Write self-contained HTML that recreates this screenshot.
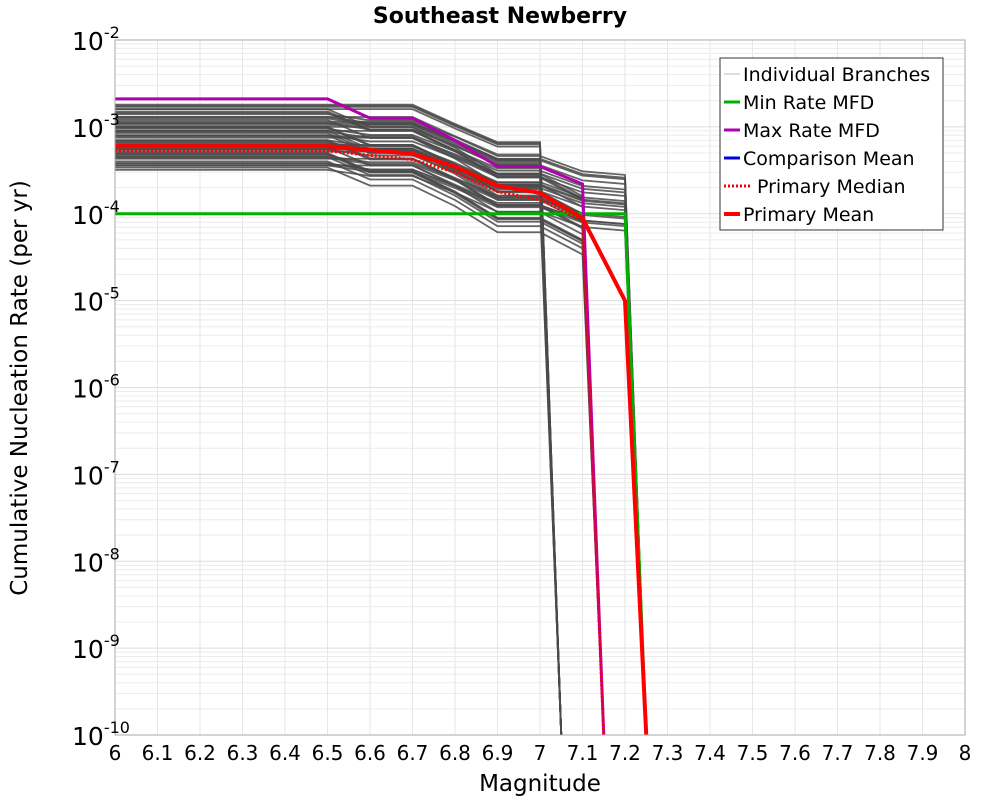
<!DOCTYPE html>
<html><head><meta charset="utf-8"><style>
html,body{margin:0;padding:0;background:#fff;overflow:hidden;font-family:"DejaVu Sans","Liberation Sans",sans-serif}
svg{display:block}
svg text{font-family:"DejaVu Sans","Liberation Sans",sans-serif}
</style></head><body>
<svg id="chart" width="1000" height="800" xmlns="http://www.w3.org/2000/svg">
<text x="500" y="23" text-anchor="middle" font-size="22" font-weight="bold">Southeast Newberry</text>
<g id="grid"></g>
<defs><clipPath id="clip"><rect x="115" y="40" width="850" height="695"/></clipPath></defs>
<g id="branches" clip-path="url(#clip)"></g>
<g id="series" clip-path="url(#clip)"></g>
<rect x="115" y="40" width="850" height="695" fill="none" stroke="#aaa" stroke-width="1"/>
<g id="axes"></g>
<text x="540" y="791" text-anchor="middle" font-size="23">Magnitude</text>
<text transform="translate(27,388) rotate(-90)" text-anchor="middle" font-size="23">Cumulative Nucleation Rate (per yr)</text>
<g>
<rect x="720" y="58" width="223" height="172" fill="#fff" stroke="#333" stroke-width="1"/>
<line x1="724" y1="74" x2="740" y2="74" stroke="#bbb" stroke-width="1"/><text x="743" y="81" font-size="19">Individual Branches</text>
<line x1="724" y1="102" x2="740" y2="102" stroke="#00b000" stroke-width="3"/><text x="743" y="109" font-size="19">Min Rate MFD</text>
<line x1="724" y1="130" x2="740" y2="130" stroke="#b000b0" stroke-width="3"/><text x="743" y="137" font-size="19">Max Rate MFD</text>
<line x1="724" y1="158" x2="740" y2="158" stroke="#0000e0" stroke-width="3"/><text x="743" y="165" font-size="19">Comparison Mean</text>
<line x1="724" y1="186" x2="752" y2="186" stroke="#f00" stroke-width="3" stroke-dasharray="2,2"/><text x="757" y="193" font-size="19">Primary Median</text>
<line x1="724" y1="214" x2="740" y2="214" stroke="#f00" stroke-width="4"/><text x="743" y="221" font-size="19">Primary Mean</text>
</g>
</svg>
<script>
const xTicks=[6,6.1,6.2,6.3,6.4,6.5,6.6,6.7,6.8,6.9,7,7.1,7.2,7.3,7.4,7.5,7.6,7.7,7.8,7.9,8];
const xTickLabels=["6","6.1","6.2","6.3","6.4","6.5","6.6","6.7","6.8","6.9","7","7.1","7.2","7.3","7.4","7.5","7.6","7.7","7.8","7.9","8"];
const yExps=[-2,-3,-4,-5,-6,-7,-8,-9,-10];
const mags=[6,6.1,6.2,6.3,6.4,6.5,6.6,6.7,6.8,6.9,7,7.1,7.2];
const minRate=[1e-4,1e-4,1e-4,1e-4,1e-4,1e-4,1e-4,1e-4,1e-4,1e-4,1e-4,1e-4,1e-4];
const maxRate=[2.1e-3,2.1e-3,2.1e-3,2.1e-3,2.1e-3,2.1e-3,1.26e-3,1.26e-3,7e-4,3.5e-4,3.5e-4,2.2e-4];
const meanRate=[6e-4,6e-4,6e-4,6e-4,6e-4,6e-4,5.4e-4,4.9e-4,3.5e-4,2.1e-4,1.74e-4,8.9e-5,1e-5];
const medianRate=[5.3e-4,5.3e-4,5.3e-4,5.3e-4,5.3e-4,5.3e-4,4.7e-4,4.2e-4,3e-4,1.8e-4,1.45e-4,8.5e-5];
const branchBase=[1.8e-3,1.7e-3,1.6e-3,1.5e-3,1.4e-3,1.3e-3,1.2e-3,1.1e-3,1.05e-3,1e-3,9.5e-4,9e-4,8.5e-4,8e-4,7.5e-4,7e-4,6.6e-4,6.2e-4,5.8e-4,5.5e-4,5.2e-4,4.9e-4,4.6e-4,4.3e-4,4e-4,3.8e-4,3.6e-4,3.4e-4,3.2e-4,1.6e-3,1.3e-3,1.1e-3,9e-4,7e-4,5.5e-4,4.5e-4,3.6e-4,1e-3,8e-4,6e-4,4.8e-4,3.8e-4,1.75e-3,1.45e-3,1.25e-3,1.15e-3,9.8e-4,8.8e-4,7.8e-4,6.8e-4,6.4e-4,5.6e-4,5e-4,4.4e-4];
const branchMmax=[7.0,7.0,7.0,7.1,7.2,7.0,7.1,7.2,7.0,7.1,7.2,7.0,7.1,7.2,7.0,7.1,7.2,7.0,7.1,7.2,7.0,7.1,7.2,7.0,7.1,7.2,7.0,7.1,7.2,7.1,7.2,7.0,7.1,7.2,7.0,7.1,7.2,7.0,7.1,7.2,7.1,7.2,7.0,7.1,7.2,7.0,7.1,7.2,7.0,7.1,7.2,7.0,7.1,7.2];
const profile70=[1,1,1,1,1,1,1,1,0.6,0.37,0.37];
const profile71=[1,1,1,1,1,1,0.62,0.62,0.36,0.18,0.18,0.1];
const profile72=[1,1,1,1,1,1,0.85,0.85,0.55,0.33,0.33,0.22,0.2];
const X0=115,X1=965,Y0=40,Y1=735;
const sx=m=>X0+(m-6)/2*(X1-X0);
const sy=v=>Y0+(-2-Math.log10(v))/8*(Y1-Y0);
const NS="http://www.w3.org/2000/svg";
function mk(tag,attrs,parent){const e=document.createElementNS(NS,tag);for(const k in attrs)e.setAttribute(k,attrs[k]);parent.appendChild(e);return e;}
const grid=document.getElementById('grid'),axes=document.getElementById('axes');
xTicks.forEach((t,i)=>{
 const l=mk('line',{x1:sx(t),x2:sx(t),y1:Y0,y2:Y1,stroke:'#e6e6e6'},grid);
 
 
 const tx=mk('text',{x:sx(t),y:760,'text-anchor':'middle','font-size':'20'},axes);
 tx.textContent=xTickLabels[i];
 
 
});
yExps.forEach(e=>{
 for(let k=1;k<=9;k++){
  const v=k*Math.pow(10,e); if(e===-2&&k>1)continue;
  const l=mk('line',{x1:X0,x2:X1,y1:sy(v),y2:sy(v),stroke:k===1?'#ddd':'#ececec'},grid);
  
  
 }
 const tx=mk('text',{x:72,y:sy(Math.pow(10,e))+10,'font-size':'25'},axes);
 tx.innerHTML='10<tspan dy="-12" font-size="16">'+e+'</tspan>';
 
 
});
function pathFor(vals,mmax){
 let d='';vals.forEach((v,i)=>{d+=(i?'L':'M')+sx(mags[i])+','+sy(v);});
 d+='L'+sx(mmax+0.05)+','+sy(1e-10)+'L'+sx(mmax+0.06)+','+sy(1e-12);return d;
}
const br=document.getElementById('branches');
branchBase.forEach((b,i)=>{
 const mm=branchMmax[i];const prof=mm===7.0?profile70:mm===7.1?profile71:profile72;
 const p=mk('path',{d:pathFor(prof.map(f=>f*b),mm),fill:'none',stroke:'#4a4a4a','stroke-opacity':'0.85','stroke-width':'1.8'},br);
 
 
});
const sr=document.getElementById('series');
[[minRate,7.2,'#00b000',3,null,'min-rate-line'],[maxRate,7.1,'#b000b0',3,null,'max-rate-line'],[medianRate,7.1,'#f00',3,'2,2','primary-median-line'],[meanRate,7.2,'#f00',4,null,'primary-mean-line']].forEach(s=>{
 const a={d:pathFor(s[0],s[1]),fill:'none',stroke:s[2],'stroke-width':s[3]};if(s[4])a['stroke-dasharray']=s[4];
 const p=mk('path',a,sr);
 
 
});
</script>
</body></html>
